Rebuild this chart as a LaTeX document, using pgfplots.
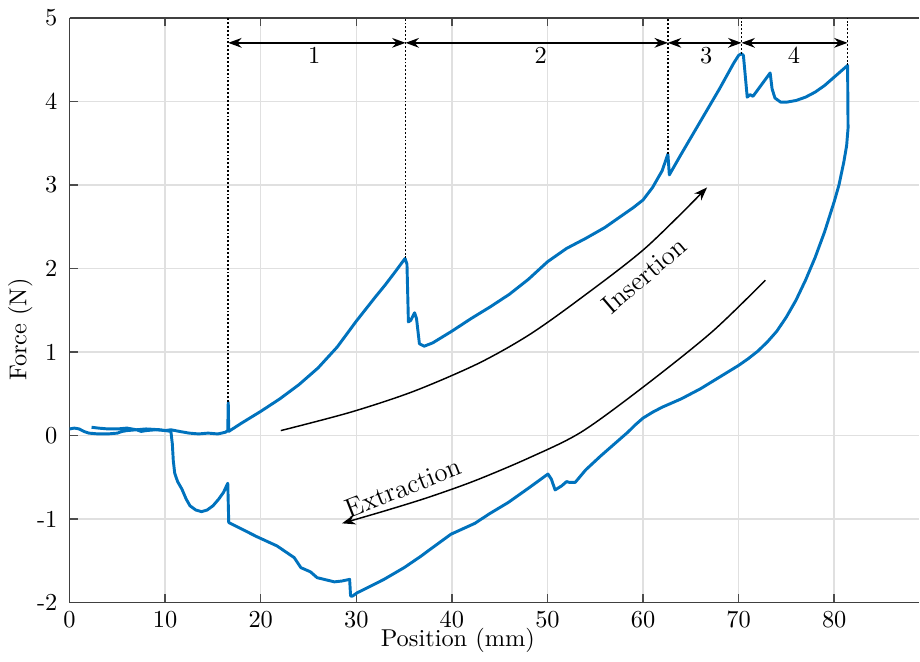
\documentclass[border=0pt]{standalone}
\usepackage{pgfplots}
\pgfplotsset{compat=1.18}
\usetikzlibrary{arrows.meta}
\definecolor{mblue}{RGB}{0,114,189}
\begin{document}
\begin{tikzpicture}
\begin{axis}[
  name=ax,
  scale only axis, width=348.6pt, height=240pt,
  xmin=0, xmax=88.9, ymin=-2, ymax=5,
  xtick={0,10,...,80}, ytick={-2,-1,0,1,2,3,4,5},
  yticklabels={-2,-1,0,1,2,3,4,5},
  axis x line*=box, axis y line*=left,
  axis line style={black!75, line width=0.6pt},
  tick style={black!70, line width=0.6pt},
  tick align=inside, major tick length=3.5pt,
  xtick pos=both, ytick pos=left,
  grid=major, grid style={black!12, line width=0.6pt},
  xlabel={Position (mm)}, ylabel={Force (N)},
  xlabel style={at={(axis description cs:0.457,-0.065)}, anchor=center},
  ylabel style={at={(axis description cs:-0.058,0.467)}, anchor=center},
  yticklabel style={xshift=-1.5pt},
  clip=true,
]
% force-position hysteresis: insertion then extraction
\addplot[mblue, line width=1.2pt, line join=round] coordinates {
(0,0.08)(0.5,0.09)(1,0.08)(1.5,0.05)(2,0.03)(3,0.02)(4,0.02)(5,0.03)(5.5,0.05)(6,0.06)(7,0.07)(7.5,0.05)(8,0.06)(9,0.07)(10,0.06)(10.6,0.07)(11.5,0.05)(12.5,0.03)(13.5,0.02)(14.5,0.03)(15.5,0.02)(16.3,0.04)(16.55,0.06)(16.6,0.4)(16.65,0.05)
(18,0.15)(20,0.29)(22,0.44)(24,0.61)(26,0.81)(28,1.06)(30,1.37)(32,1.66)(33,1.80)(34,1.95)(35.1,2.12)(35.3,2.05)(35.45,1.36)(35.7,1.38)(36.1,1.47)(36.3,1.4)(36.6,1.1)(37.1,1.07)(38,1.11)(40,1.25)(42,1.40)(44,1.54)(46,1.69)(48,1.87)(50,2.08)(52,2.24)(54,2.36)(56,2.49)(58,2.65)(59,2.73)(60,2.82)(61,2.97)(62,3.17)(62.6,3.37)(62.75,3.12)(64,3.37)(66,3.76)(68,4.15)(69.5,4.46)(70,4.55)(70.3,4.57)(70.5,4.55)(70.9,4.05)(71.2,4.08)(71.5,4.06)(73.3,4.34)(73.5,4.15)(73.8,4.04)(74.4,3.99)(75,3.99)(76,4.01)(77,4.05)(78,4.11)(79,4.19)(80,4.29)(81.4,4.43)(81.45,3.68)
(81.3,3.47)(81,3.27)(80.5,3.0)(80,2.8)(79,2.44)(78,2.13)(77,1.86)(76,1.62)(75,1.42)(74,1.25)(73,1.12)(72,1.01)(71,0.92)(70,0.84)(68,0.7)(66,0.56)(64,0.44)(62,0.34)(61,0.28)(60,0.21)(59.2,0.13)(58.4,0.04)(57,-0.1)(55.6,-0.24)(54,-0.41)(52.9,-0.56)(52.3,-0.56)(52.0,-0.55)(51.5,-0.6)(50.8,-0.65)(50.4,-0.52)(50.05,-0.46)(48,-0.63)(45.9,-0.8)(44,-0.93)(42.4,-1.05)(39.9,-1.18)(37.5,-1.38)(36.8,-1.44)(35,-1.58)(32.9,-1.72)(31,-1.83)(30.1,-1.88)(29.6,-1.92)(29.4,-1.92)(29.3,-1.72)(28.5,-1.74)(27.7,-1.75)(25.9,-1.70)(25.2,-1.63)(24.2,-1.58)(23.5,-1.46)(21.7,-1.32)(19.6,-1.21)(16.65,-1.04)(16.55,-0.57)
(16.1,-0.68)(15.6,-0.76)(15,-0.84)(14.4,-0.89)(13.8,-0.91)(13.2,-0.89)(12.6,-0.84)(12.2,-0.76)(11.75,-0.64)(11.3,-0.55)(11.0,-0.45)(10.85,-0.3)(10.75,-0.1)(10.6,0.05)
(9.5,0.07)(8,0.08)(7,0.07)(6,0.09)(5,0.08)(4,0.08)(3,0.09)(2.3,0.1)
};
% dotted section markers
\addplot[black, line width=0.7pt, dash pattern=on 0.8pt off 0.8pt] coordinates {(16.6,0.4)(16.6,5)};
\addplot[black, line width=0.7pt, dash pattern=on 0.8pt off 0.8pt] coordinates {(35.15,2.12)(35.15,5)};
\addplot[black, line width=0.7pt, dash pattern=on 0.8pt off 0.8pt] coordinates {(62.6,3.37)(62.6,5)};
\addplot[black, line width=0.7pt, dash pattern=on 0.8pt off 0.8pt] coordinates {(70.3,4.57)(70.3,5)};
\addplot[black, line width=0.7pt, dash pattern=on 0.8pt off 0.8pt] coordinates {(81.4,4.43)(81.4,5)};
% section arrows
\addplot[black, line width=0.6pt, {Stealth[length=5.5pt,width=4pt]}-{Stealth[length=5.5pt,width=4pt]}] coordinates {(16.6,4.7)(35.15,4.7)};
\addplot[black, line width=0.6pt, {Stealth[length=5.5pt,width=4pt]}-{Stealth[length=5.5pt,width=4pt]}] coordinates {(35.15,4.7)(62.6,4.7)};
\addplot[black, line width=0.6pt, {Stealth[length=5.5pt,width=4pt]}-{Stealth[length=5.5pt,width=4pt]}] coordinates {(62.6,4.7)(70.3,4.7)};
\addplot[black, line width=0.6pt, {Stealth[length=5.5pt,width=4pt]}-{Stealth[length=5.5pt,width=4pt]}] coordinates {(70.3,4.7)(81.4,4.7)};
\node at (axis cs:25.6,4.55) {1};
\node at (axis cs:49.3,4.55) {2};
\node at (axis cs:66.6,4.55) {3};
\node at (axis cs:75.8,4.55) {4};
% direction arrows
\addplot[black, line width=0.6pt, smooth, -{Stealth[length=5.5pt,width=4pt]}] coordinates {(22.1,0.06)(29.4,0.28)(36,0.53)(42.7,0.86)(48,1.2)(53.2,1.62)(60.2,2.24)(66.7,2.97)};
\addplot[black, line width=0.6pt, smooth, -{Stealth[length=5.5pt,width=4pt]}] coordinates {(72.8,1.86)(67.2,1.24)(60,0.58)(53.5,0.04)(48,-0.27)(42.4,-0.54)(37.5,-0.74)(33,-0.9)(28.5,-1.05)};
\node[rotate=40.6, inner sep=1pt, font=\fontsize{11}{13}\selectfont] at (axis cs:60.1,1.92) {Insertion};
\node[rotate=21.4, inner sep=1pt, font=\fontsize{11}{13}\selectfont] at (axis cs:34.9,-0.62) {Extraction};
\end{axis}
\path (ax.north west) ++(0,7.3pt) coordinate (t);
\end{tikzpicture}
\end{document}
